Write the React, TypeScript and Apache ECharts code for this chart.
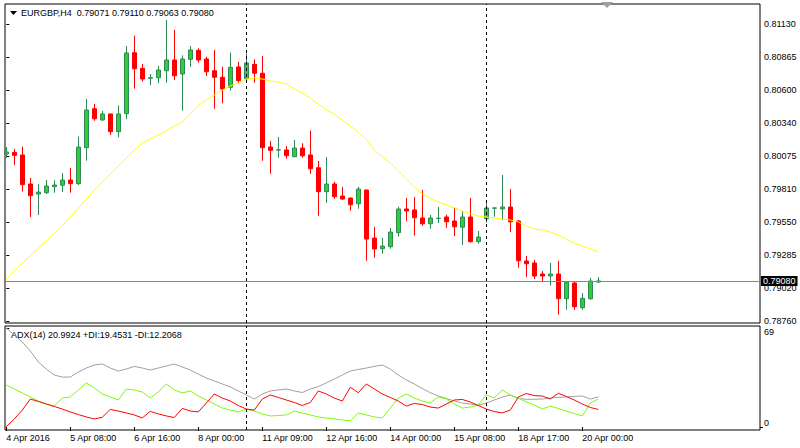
import React, { useEffect, useRef } from 'react';
import * as echarts from 'echarts';

// ---- Data ----
const opens = [
  0.80093, 0.80106, 0.80085, 0.79853, 0.79773, 0.79784, 0.79832, 0.79843, 0.79885, 0.79856,
  0.80143, 0.80454, 0.80364, 0.80412, 0.80271, 0.80414, 0.80901, 0.80776, 0.80697, 0.80701,
  0.80757, 0.80843, 0.80731, 0.80848, 0.80920, 0.80851, 0.80757, 0.80705, 0.80625, 0.80787,
  0.80693, 0.80808, 0.80737, 0.80148, 0.80124, 0.80125, 0.80071, 0.80140, 0.80085, 0.79983,
  0.79792, 0.79853, 0.79757, 0.79741, 0.79696, 0.79805, 0.79422, 0.79337, 0.79353, 0.79465,
  0.79654, 0.79646, 0.79582, 0.79536, 0.79578, 0.79590, 0.79558, 0.79508, 0.79590, 0.79393,
  0.79576, 0.79660, 0.79654, 0.79670, 0.79558, 0.79239, 0.79223, 0.79135, 0.79119, 0.79135,
  0.78938, 0.79063, 0.78866, 0.78938, 0.79071,
];
const highs = [
  0.80148, 0.80132, 0.80151, 0.79901, 0.79853, 0.79885, 0.79883, 0.79941, 0.79981, 0.80231,
  0.80532, 0.80492, 0.80436, 0.80414, 0.80481, 0.80954, 0.81037, 0.80811, 0.80731, 0.80797,
  0.81162, 0.81082, 0.80880, 0.80954, 0.80936, 0.80869, 0.80923, 0.80789, 0.80901, 0.80827,
  0.80896, 0.80848, 0.80875, 0.80196, 0.80228, 0.80156, 0.80204, 0.80178, 0.80279, 0.80037,
  0.80069, 0.79872, 0.79829, 0.79745, 0.79832, 0.79809, 0.79510, 0.79422, 0.79502, 0.79672,
  0.79741, 0.79749, 0.79805, 0.79606, 0.79670, 0.79608, 0.79664, 0.79638, 0.79741, 0.79478,
  0.79726, 0.79668, 0.79925, 0.79813, 0.79566, 0.79279, 0.79247, 0.79159, 0.79223, 0.79241,
  0.79079, 0.79079, 0.78983, 0.79103, 0.79110,
];
const lows = [
  0.80061, 0.80005, 0.79792, 0.79590, 0.79606, 0.79773, 0.79784, 0.79789, 0.79784, 0.79845,
  0.80039, 0.80358, 0.80358, 0.80244, 0.80226, 0.80370, 0.80614, 0.80670, 0.80641, 0.80657,
  0.80662, 0.80683, 0.80438, 0.80789, 0.80821, 0.80715, 0.80454, 0.80497, 0.80598, 0.80657,
  0.80683, 0.80662, 0.80039, 0.79935, 0.80063, 0.80055, 0.80069, 0.80063, 0.79935, 0.79600,
  0.79704, 0.79736, 0.79728, 0.79640, 0.79656, 0.79241, 0.79265, 0.79297, 0.79337, 0.79433,
  0.79558, 0.79441, 0.79520, 0.79497, 0.79542, 0.79504, 0.79438, 0.79366, 0.79385, 0.79377,
  0.79544, 0.79592, 0.79566, 0.79470, 0.79185, 0.79111, 0.79095, 0.79079, 0.79042, 0.78810,
  0.78850, 0.78850, 0.78850, 0.78930, 0.79063,
];
const closes = [
  0.80109, 0.80082, 0.79848, 0.79760, 0.79789, 0.79837, 0.79845, 0.79885, 0.79856, 0.80148,
  0.80444, 0.80374, 0.80412, 0.80271, 0.80412, 0.80899, 0.80773, 0.80691, 0.80701, 0.80763,
  0.80843, 0.80717, 0.80851, 0.80923, 0.80843, 0.80749, 0.80705, 0.80611, 0.80784, 0.80678,
  0.80819, 0.80737, 0.80143, 0.80122, 0.80126, 0.80079, 0.80140, 0.80079, 0.79975, 0.79792,
  0.79853, 0.79752, 0.79733, 0.79688, 0.79813, 0.79414, 0.79335, 0.79358, 0.79470, 0.79654,
  0.79638, 0.79584, 0.79536, 0.79582, 0.79580, 0.79552, 0.79512, 0.79590, 0.79393, 0.79430,
  0.79662, 0.79662, 0.79670, 0.79552, 0.79241, 0.79217, 0.79119, 0.79119, 0.79135, 0.78938,
  0.79071, 0.78874, 0.78941, 0.79079, 0.79080,
];
const maValues = [
  0.79095, 0.79159, 0.79223, 0.79279, 0.79342, 0.79398, 0.79462, 0.79518, 0.79590, 0.79662,
  0.79733, 0.79805, 0.79869, 0.79933, 0.79997, 0.80061, 0.80125, 0.80180, 0.80212, 0.80244,
  0.80276, 0.80316, 0.80348, 0.80412, 0.80476, 0.80524, 0.80563, 0.80603, 0.80635, 0.80659,
  0.80691, 0.80699, 0.80691, 0.80675, 0.80667, 0.80651, 0.80611, 0.80579, 0.80539, 0.80492,
  0.80444, 0.80412, 0.80364, 0.80316, 0.80268, 0.80212, 0.80125, 0.80069, 0.80021, 0.79957,
  0.79893, 0.79829, 0.79773, 0.79741, 0.79710, 0.79686, 0.79662, 0.79638, 0.79618, 0.79598,
  0.79590, 0.79582, 0.79574, 0.79566, 0.79550, 0.79518, 0.79494, 0.79486, 0.79470, 0.79446,
  0.79414, 0.79382, 0.79358, 0.79335, 0.79311,
];
const adxValues = [
  69.0, 64.1, 59.2, 53.0, 45.3, 40.4, 36.2, 34.8, 34.8, 38.3,
  41.1, 43.2, 43.9, 41.1, 39.0, 40.4, 42.2, 41.1, 39.7, 41.1,
  42.5, 43.9, 41.8, 39.7, 36.9, 34.1, 32.1, 30.0, 27.9, 25.1,
  22.3, 19.5, 23.0, 25.1, 25.8, 26.5, 25.1, 24.0, 26.5, 28.2,
  30.7, 33.4, 36.2, 39.0, 40.1, 41.1, 42.2, 43.2, 40.4, 36.2,
  32.8, 30.0, 26.8, 23.9, 21.6, 19.9, 18.1, 16.7, 16.0, 15.0,
  16.7, 18.8, 20.9, 22.3, 19.9, 19.3, 19.3, 19.5, 20.2, 20.6,
  20.9, 21.3, 21.6, 19.5, 21.0,
];
const plusDi = [
  29.3, 26.5, 23.7, 20.9, 18.1, 16.0, 14.6, 20.2, 20.9, 25.8,
  30.7, 27.2, 23.0, 20.9, 18.8, 26.5, 25.8, 24.4, 20.2, 24.4,
  30.0, 25.8, 23.7, 25.1, 21.6, 18.8, 16.0, 13.2, 11.8, 10.5,
  12.5, 11.1, 9.1, 7.7, 8.0, 8.4, 11.1, 9.8, 8.4, 7.0,
  6.3, 5.6, 4.9, 4.2, 9.8, 8.4, 7.0, 6.3, 13.2, 20.2,
  23.0, 20.2, 18.1, 16.7, 20.9, 19.5, 16.0, 13.2, 13.9, 15.3,
  22.3, 20.2, 25.8, 22.3, 20.2, 17.4, 15.3, 12.5, 14.6, 12.9,
  11.1, 9.4, 7.7, 16.7, 19.5,
];
const minusDi = [
  0.3, 5.6, 11.8, 19.5, 17.8, 16.0, 14.3, 12.5, 10.5, 8.7,
  7.0, 5.6, 6.8, 12.3, 11.1, 9.8, 8.4, 6.3, 10.9, 9.1,
  7.7, 6.6, 13.0, 11.1, 10.5, 16.7, 23.0, 20.2, 18.1, 15.0,
  12.5, 11.8, 19.5, 22.3, 20.6, 18.8, 17.1, 15.0, 17.1, 25.1,
  23.0, 20.2, 18.1, 27.7, 23.9, 30.0, 26.5, 23.0, 20.6, 18.1,
  14.6, 16.4, 15.7, 13.9, 13.2, 16.0, 18.8, 19.2, 17.4, 15.0,
  12.5, 10.8, 9.8, 11.8, 20.9, 23.3, 21.9, 21.6, 19.5, 23.5,
  21.3, 18.8, 16.0, 13.6, 12.2,
];
const priceTicks = [0.8113, 0.80865, 0.806, 0.8034, 0.80075, 0.7981, 0.7955, 0.79285, 0.7902, 0.7876];
const timeTickIndex = [0, 8, 16, 24, 32, 40, 48, 56, 64, 72];
const timeTickLabels = [
  '4 Apr 2016', '5 Apr 08:00', '6 Apr 16:00', '8 Apr 00:00', '11 Apr 09:00',
  '12 Apr 16:00', '14 Apr 00:00', '15 Apr 08:00', '18 Apr 17:00', '20 Apr 00:00',
];
const weekStarts = [30, 60];
const lastPrice = 0.7908;
const adxTop = [69];
const adxBottom = [0];
const headerText = 'EURGBP,H4  0.79071 0.79110 0.79063 0.79080';
const adxText = 'ADX(14) 20.9924 +DI:19.4531 -DI:12.2068';

const FONT = '"Liberation Sans", Arial, sans-serif';
const FS = 9;
const X_MIN = -0.1625;
const X_MAX = 94.2125;

export default function App() {
  const ref = useRef<HTMLDivElement>(null);
  useEffect(() => {
    if (!ref.current) return;
    const chart = echarts.init(ref.current, undefined, { renderer: 'svg' });
    const candleData = opens.map((o, i) => [i, o, closes[i], lows[i], highs[i]]);
    const maData = maValues.map((v, i) => [i, v]);
    const adxData = adxValues.map((v, i) => [i, v]);
    const plusData = plusDi.map((v, i) => [i, v]);
    const minusData = minusDi.map((v, i) => [i, v]);
    const sepLines = weekStarts.map((w) => ({
      xAxis: w,
      lineStyle: { color: '#000', type: [3, 3], width: 1 },
      label: { show: false },
    }));
    const labelFont = { fontFamily: FONT, fontSize: FS, color: '#000' };
    const option: any = {
      animation: false,
      backgroundColor: '#fff',
      grid: [
        { left: 5, top: 4, width: 755, height: 319, show: true, borderColor: '#000', borderWidth: 1, outerBoundsMode: 'none' },
        { left: 5, top: 326, width: 755, height: 104, show: true, borderColor: '#000', borderWidth: 1, outerBoundsMode: 'none' },
      ],
      xAxis: [
        { type: 'value', gridIndex: 0, min: X_MIN, max: X_MAX, show: false },
        {
          type: 'value', gridIndex: 1, min: X_MIN, max: X_MAX,
          axisLine: { show: false }, splitLine: { show: false },
          axisTick: { show: true, customValues: timeTickIndex, length: 4, lineStyle: { color: '#000' } },
          axisLabel: {
            customValues: timeTickIndex,
            formatter: (v: number) => {
              const k = timeTickIndex.indexOf(Math.round(v));
              return k >= 0 ? timeTickLabels[k] : '';
            },
            align: 'left', margin: 3, ...labelFont,
          },
        },
      ],
      yAxis: [
        {
          type: 'value', gridIndex: 0, position: 'right', min: 0.78744, max: 0.812896,
          axisLine: { show: false }, splitLine: { show: false },
          axisTick: { show: true, customValues: priceTicks, length: 3, lineStyle: { color: '#000' } },
          axisLabel: { customValues: priceTicks, formatter: (v: number) => v.toFixed(5), margin: 4, ...labelFont },
        },
        {
          type: 'value', gridIndex: 1, position: 'right', min: -2.09, max: 70.38,
          axisLine: { show: false }, splitLine: { show: false },
          axisTick: { show: true, customValues: adxTop, length: 3, lineStyle: { color: '#000' } },
          axisLabel: { customValues: adxTop, formatter: (v: number) => String(v), margin: 4, verticalAlign: 'top', ...labelFont },
        },
        {
          type: 'value', gridIndex: 1, position: 'right', min: -2.09, max: 70.38,
          axisLine: { show: false }, splitLine: { show: false },
          axisTick: { show: true, customValues: adxBottom, length: 3, lineStyle: { color: '#000' } },
          axisLabel: { customValues: adxBottom, formatter: (v: number) => String(v), margin: 4, verticalAlign: 'bottom', ...labelFont },
        },
      ],
      series: [
        {
          type: 'candlestick', xAxisIndex: 0, yAxisIndex: 0, data: candleData,
          encode: { x: 0, y: [1, 2, 3, 4] },
          barWidth: 5,
          emphasis: { disabled: true },
          itemStyle: { color: '#32CD32', color0: '#FF0000', borderColor: '#2E8B57', borderColor0: '#FF0000', borderWidth: 1 },
        },
        {
          type: 'line', xAxisIndex: 0, yAxisIndex: 0, data: maData, symbol: 'none', showSymbol: false,
          lineStyle: { color: '#FFFF00', width: 1 }, emphasis: { disabled: true }, z: 3,
          markLine: {
            symbol: ['none', 'none'], silent: true, animation: false, precision: 5,
            data: [
              {
                yAxis: lastPrice,
                lineStyle: { color: '#778899', width: 1, type: 'solid' },
                label: {
                  show: true, position: 'end', formatter: lastPrice.toFixed(5), distance: 1,
                  color: '#fff', backgroundColor: '#000', padding: [1, 2, 0, 2], fontFamily: FONT, fontSize: FS,
                },
              },
              ...sepLines,
            ],
          },
        },
        {
          type: 'line', xAxisIndex: 1, yAxisIndex: 1, data: adxData, symbol: 'none', showSymbol: false,
          lineStyle: { color: '#A0A0A0', width: 1 }, emphasis: { disabled: true },
          markLine: { symbol: ['none', 'none'], silent: true, animation: false, data: sepLines },
        },
        {
          type: 'line', xAxisIndex: 1, yAxisIndex: 1, data: plusData, symbol: 'none', showSymbol: false,
          lineStyle: { color: '#7CFC00', width: 1 }, emphasis: { disabled: true },
        },
        {
          type: 'line', xAxisIndex: 1, yAxisIndex: 1, data: minusData, symbol: 'none', showSymbol: false,
          lineStyle: { color: '#FF0000', width: 1 }, emphasis: { disabled: true },
        },
      ],
      graphic: [
        { type: 'polygon', shape: { points: [[10, 11], [17, 11], [13.5, 15]] }, style: { fill: '#000' } },
        { type: 'text', x: 21, y: 13, style: { text: headerText, fontFamily: FONT, fontSize: FS, fill: '#000', verticalAlign: 'middle' } },
        { type: 'text', x: 11, y: 335, style: { text: adxText, fontFamily: FONT, fontSize: FS, fill: '#000', verticalAlign: 'middle' } },
        { type: 'polygon', shape: { points: [[601, 2], [613, 2], [607, 8]] }, style: { fill: '#A0A0A0' } },
      ],
    };
    chart.setOption(option);
    return () => chart.dispose();
  }, []);
  return (
    <div
      ref={ref}
      style={{ position: 'fixed', left: 0, top: 0, width: 800, height: 448, background: '#fff' }}
    />
  );
}
